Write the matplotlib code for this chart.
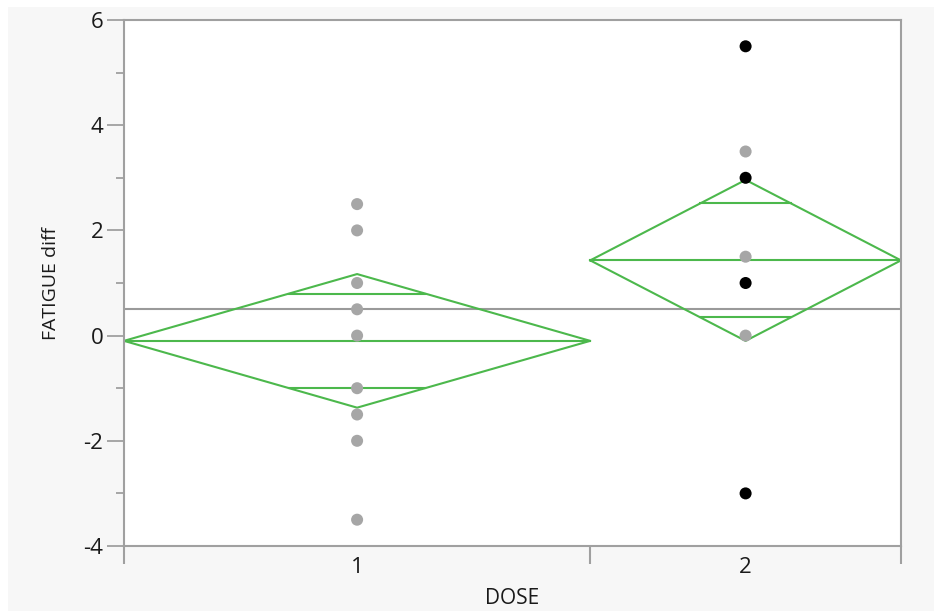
import numpy as np
import matplotlib
matplotlib.use("Agg")
import matplotlib.pyplot as plt
from matplotlib.patches import Rectangle

# data
dose_levels = ["1", "2"]
group_counts = [12, 8]

dose1_values = [2.5, 2.0, 1.0, 0.5, 0.0, -1.0, -1.5, -2.0, -3.5]
dose1_colors = ["#a6a6a6"] * len(dose1_values)
dose2_values = [5.5, 3.5, 3.0, 1.5, 1.0, 0.0, -3.0]
dose2_colors = ["black", "#a6a6a6", "black", "#a6a6a6", "black", "#a6a6a6", "black"]

group_means = [-0.10, 1.43]
ci_half = [1.27, 1.53]
grand_mean = 0.5

green = "#4cb84c"
axis_gray = "#a0a0a0"
text_color = "#1a1a1a"

plt.rcParams['font.family'] = ['Open Sans', 'DejaVu Sans']
plt.rcParams['axes.unicode_minus'] = False

fig = plt.figure(figsize=(9.34, 6.11), dpi=100)
fig.patch.set_facecolor("white")
fig.patches.append(Rectangle((8 / 934, 0), 1, (611 - 7) / 611, transform=fig.transFigure,
                             facecolor="#f7f7f7", edgecolor="none", zorder=-10))
ax = fig.add_axes([124 / 934, (611 - 546) / 611, (901 - 124) / 934, (546 - 20) / 611])
ax.set_facecolor("white")

edges = np.concatenate([[0], np.cumsum(group_counts)])
centers = (edges[:-1] + edges[1:]) / 2

# grand mean
ax.axhline(grand_mean, color="#9a9a9a", lw=1.5, zorder=1)

# points
ax.scatter([centers[0]] * len(dose1_values), dose1_values, s=75, c=dose1_colors,
           edgecolors="none", zorder=3)
ax.scatter([centers[1]] * len(dose2_values), dose2_values, s=75, c=dose2_colors,
           edgecolors="none", zorder=3)

# means diamonds
for i in range(len(dose_levels)):
    x0, x1, xc = edges[i], edges[i + 1], centers[i]
    m, h = group_means[i], ci_half[i]
    w = (x1 - x0) / 2
    ax.plot([x0, xc, x1, xc, x0], [m, m + h, m, m - h, m], color=green, lw=1.5, zorder=2)
    ax.plot([x0, x1], [m, m], color=green, lw=1.5, zorder=2)
    d = h / np.sqrt(2)
    hw = w * (1 - d / h)
    for s in (1, -1):
        ax.plot([xc - hw, xc + hw], [m + s * d, m + s * d], color=green, lw=1.5, zorder=2)

ax.set_xlim(edges[0], edges[-1])
ax.set_ylim(-4, 6)

ax.set_xticks(edges)
ax.set_xticklabels([])
ax.set_xticks(centers, minor=True)
ax.set_xticklabels(dose_levels, minor=True)
ax.tick_params(axis="x", which="major", length=13, width=1.5, color=axis_gray)
ax.tick_params(axis="x", which="minor", length=0, pad=8, labelsize=16, labelcolor=text_color)

ax.set_yticks(np.arange(-4, 7, 2))
ax.set_yticks(np.arange(-3, 6, 2), minor=True)
ax.tick_params(axis="y", which="major", length=12, width=1.3, color=axis_gray,
               labelsize=16, labelcolor=text_color, pad=3)
ax.tick_params(axis="y", which="minor", length=6, width=1.3, color=axis_gray)

for side in ["left", "bottom", "right", "top"]:
    ax.spines[side].set_color(axis_gray)
    ax.spines[side].set_linewidth(1.5)

ax.set_xlabel("DOSE", fontsize=15, color=text_color, labelpad=7)
ax.set_ylabel("FATIGUE diff", fontsize=14, color=text_color, labelpad=17)

fig.savefig("out.png", dpi=100)
